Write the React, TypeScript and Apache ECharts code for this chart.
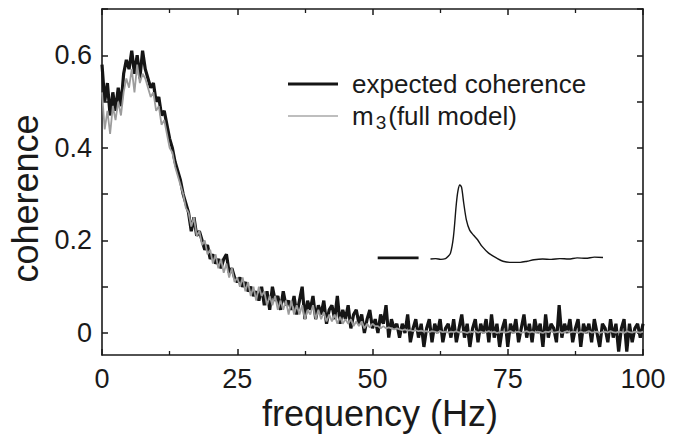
import React, { useEffect, useRef } from "react";
import * as echarts from "echarts";

const FONT = "Liberation Sans";
const INK = "#1a1a1a";

// frequency grid (Hz), 0.5 Hz steps
const freq: number[] = Array.from({ length: 201 }, (_, i) => i * 0.5);

const expectedCoherence: number[] = [
  0.58, 0.50, 0.54, 0.47, 0.52, 0.48, 0.53, 0.49, 0.56, 0.59,
  0.57, 0.61, 0.56, 0.60, 0.55, 0.61, 0.57, 0.55, 0.53, 0.54,
  0.50, 0.51, 0.47, 0.48, 0.45, 0.42, 0.40, 0.37, 0.35, 0.33,
  0.30, 0.28, 0.26, 0.22, 0.25, 0.21, 0.22, 0.20, 0.18, 0.19,
  0.16, 0.17, 0.15, 0.16, 0.14, 0.16, 0.17, 0.13, 0.14, 0.12,
  0.11, 0.12, 0.10, 0.11, 0.09, 0.10, 0.08, 0.09, 0.07, 0.10,
  0.06, 0.09, 0.05, 0.10, 0.07, 0.08, 0.05, 0.09, 0.06, 0.07,
  0.05, 0.08, 0.04, 0.07, 0.10, 0.03, 0.07, 0.05, 0.08, 0.03,
  0.06, 0.04, 0.07, 0.02, 0.05, 0.06, 0.03, 0.08, 0.02, 0.05,
  0.03, 0.06, 0.01, 0.04, 0.05, 0.02, 0.04, 0.00, 0.03, 0.05,
  0.01, 0.03, 0.00, 0.04, 0.02, 0.06, -0.01, 0.03, 0.01, 0.02,
  -0.01, 0.02, 0.00, 0.04, -0.02, 0.01, 0.03, -0.01, 0.02, -0.03,
  0.01, 0.03, -0.02, 0.02, 0.00, 0.03, -0.02, 0.01, 0.02, -0.01,
  0.03, -0.02, 0.01, 0.04, -0.01, 0.02, -0.03, 0.01, 0.03, -0.02,
  0.02, 0.00, 0.03, -0.02, 0.04, -0.01, 0.02, -0.03, 0.01, 0.03,
  -0.03, 0.02, 0.00, 0.03, -0.02, 0.01, 0.04, -0.01, 0.02, -0.02,
  0.03, 0.00, 0.02, -0.03, 0.04, -0.01, 0.02, 0.01, -0.02, 0.06,
  -0.01, 0.02, 0.00, 0.03, -0.02, 0.01, 0.03, -0.03, 0.02, 0.00,
  0.02, -0.02, 0.03, 0.00, -0.03, 0.02, 0.01, -0.02, 0.03, -0.01,
  0.02, -0.04, 0.01, 0.03, -0.04, 0.02, -0.02, 0.01, 0.02, -0.01,
  0.02,
];

const fullModel: number[] = [
  0.52, 0.44, 0.48, 0.43, 0.49, 0.46, 0.50, 0.47, 0.52, 0.55,
  0.53, 0.57, 0.52, 0.58, 0.54, 0.56, 0.55, 0.53, 0.51, 0.52,
  0.48, 0.49, 0.45, 0.46, 0.43, 0.40, 0.39, 0.36, 0.34, 0.32,
  0.30, 0.27, 0.26, 0.23, 0.25, 0.21, 0.22, 0.19, 0.20, 0.17,
  0.18, 0.15, 0.17, 0.14, 0.16, 0.13, 0.15, 0.12, 0.14, 0.11,
  0.12, 0.10, 0.12, 0.09, 0.11, 0.08, 0.10, 0.07, 0.10, 0.08,
  0.09, 0.06, 0.08, 0.06, 0.08, 0.05, 0.07, 0.05, 0.07, 0.04,
  0.07, 0.04, 0.06, 0.04, 0.06, 0.03, 0.05, 0.04, 0.06, 0.03,
  0.05, 0.03, 0.045, 0.025, 0.04, 0.025, 0.04, 0.02, 0.035, 0.02,
  0.03, 0.02, 0.03, 0.015, 0.025, 0.015, 0.025, 0.01, 0.02, 0.012,
  0.02, 0.015, 0.015, 0.01, 0.015, 0.01, 0.012, 0.01, 0.008, 0.01,
  0.008, 0.006, 0.008, 0.005, 0.006, 0.004, 0.006, 0.004, 0.005, 0.003,
  0.004, 0.002, 0.004, 0.003, 0.001, 0.004, 0.002, 0.003, 0.001, 0.003,
  0.002, 0.004, 0.001, 0.003, 0.002, 0.000, 0.003, 0.002, 0.004, 0.001,
  0.003, 0.001, 0.002, 0.004, 0.001, 0.003, 0.000, 0.002, 0.003, 0.001,
  0.002, 0.004, 0.001, 0.002, 0.003, 0.000, 0.002, 0.004, 0.001, 0.003,
  0.001, 0.003, 0.002, 0.000, 0.003, 0.002, 0.004, 0.001, 0.002, 0.003,
  0.000, 0.002, 0.004, 0.001, 0.003, 0.002, 0.000, 0.003, 0.001, 0.002,
  0.004, 0.001, 0.002, 0.003, 0.000, 0.002, 0.003, 0.001, 0.004, 0.002,
  0.001, 0.003, 0.002, 0.000, 0.004, 0.002, 0.001, 0.003, 0.002, 0.001,
  0.003,
];

// inset waveform (arbitrary time / normalized amplitude)
const waveTime: number[] = [
  0, 3, 6, 8.7, 10, 11.6, 13.3, 15, 16, 17, 18, 19.3, 20.8, 22.7, 25, 27.3,
  29.9, 33.7, 38.5, 42, 46, 52, 56, 60, 65, 70, 75, 80, 85, 90, 95, 100,
];
const waveValue: number[] = [
  0, 0.005, -0.005, 0.005, 0.03, 0.08, 0.3, 0.75, 0.93, 1.0, 0.97, 0.75, 0.53,
  0.39, 0.32, 0.26, 0.17, 0.08, 0.01, -0.03, -0.045, -0.045, -0.03, -0.01, 0,
  -0.005, 0.005, 0.0, 0.015, 0.01, 0.025, 0.02,
];
const barTime: number[] = [-30.6, -6.9];
const barValue: number[] = [0.015, 0.015];

const xTicks = { min: 0, max: 100, interval: 25 };
const yLabelValues: number[] = [0, 0.2, 0.4, 0.6];

const BLACK = "#151515";
const GRAY = "#9c9c9c";

export default function App() {
  const ref = useRef<HTMLDivElement>(null);
  useEffect(() => {
    if (!ref.current) return;
    const chart = echarts.init(ref.current, undefined, { renderer: "svg" });
    const axisLine = { show: true, onZero: false, lineStyle: { color: INK, width: 1.6 } };
    const noLine = { show: false, onZero: false };
    const tick = { show: true, inside: true, length: 6, lineStyle: { color: INK, width: 1.5 } };
    const minor = { show: true, splitNumber: 2, length: 4, lineStyle: { color: INK, width: 1.3 } };
    const grid0 = { left: 102, right: 36, top: 9, bottom: 82 };
    const grid1 = { left: 102, right: 36, top: 9, bottom: 104 };
    const grid2 = { left: 377, right: 76, top: 185, bottom: 170.6 };
    chart.setOption({
      animation: false,
      backgroundColor: "#ffffff",
      textStyle: { fontFamily: FONT, color: INK },
      grid: [grid0, grid1, grid2].map((g) => ({ ...g, containLabel: false })),
      xAxis: [
        {
          gridIndex: 0, type: "value", position: "bottom", ...xTicks,
          axisLine, axisTick: tick, minorTick: minor,
          axisLabel: { fontSize: 27, margin: 10, color: INK, fontFamily: FONT },
          splitLine: { show: false },
        },
        {
          gridIndex: 0, type: "value", position: "top", ...xTicks,
          axisLine, axisTick: tick, minorTick: minor,
          axisLabel: { show: false }, splitLine: { show: false },
        },
        { gridIndex: 1, type: "value", min: 0, max: 100, show: false, axisLine: noLine },
        { gridIndex: 2, type: "value", min: -31, max: 100, show: false, axisLine: noLine },
      ],
      yAxis: [
        {
          gridIndex: 0, type: "value", position: "left", min: -0.0475, max: 0.7,
          axisLine, axisTick: { show: false }, axisLabel: { show: false }, splitLine: { show: false },
        },
        {
          gridIndex: 0, type: "value", position: "right", min: -0.0475, max: 0.7,
          axisLine, axisTick: { show: false }, axisLabel: { show: false }, splitLine: { show: false },
        },
        {
          gridIndex: 1, type: "value", position: "left", min: 0, max: 0.7, interval: 0.1,
          axisLine: noLine, axisTick: tick, splitLine: { show: false },
          axisLabel: {
            fontSize: 27, margin: 10, color: INK, fontFamily: FONT,
            formatter: (v: number) => {
              const hit = yLabelValues.find((l) => Math.abs(l - v) < 1e-6);
              return hit === undefined ? "" : hit === 0 ? "0" : hit.toFixed(1);
            },
          },
        },
        {
          gridIndex: 1, type: "value", position: "right", min: 0, max: 0.7, interval: 0.1,
          axisLine: noLine, axisTick: tick, axisLabel: { show: false }, splitLine: { show: false },
        },
        { gridIndex: 2, type: "value", min: -0.1, max: 1, show: false, axisLine: noLine },
      ],
      legend: {
        orient: "vertical",
        left: 288,
        top: 71,
        padding: 0,
        itemWidth: 50,
        itemHeight: 14,
        itemGap: 6,
        symbolKeepAspect: true,
        data: [
          { name: "expected coherence", icon: "path://M0 0H50V3H0Z", itemStyle: { color: BLACK } },
          { name: "m3(full model)", icon: "path://M0 0H50V1.4H0Z", itemStyle: { color: "#a8a8a8" } },
        ],
        formatter: (name: string) => (name === "m3(full model)" ? "m{sub|3}(full model)" : name),
        textStyle: {
          fontSize: 26, color: INK, fontFamily: FONT, padding: [0, 0, 0, 9],
          rich: {
            sub: { fontSize: 19, color: INK, fontFamily: FONT, padding: [12, 2, 0, 2] },
          },
        },
      },
      graphic: [
        {
          type: "text", x: 380, y: 413,
          style: { text: "frequency (Hz)", fontSize: 36, fontFamily: FONT, fill: INK, textAlign: "center", textVerticalAlign: "middle" },
        },
        {
          type: "text", x: 25.5, y: 198.5, rotation: Math.PI / 2,
          style: { text: "coherence", fontSize: 36, fontFamily: FONT, fill: INK, textAlign: "center", textVerticalAlign: "middle" },
        },
      ],
      series: [
        {
          name: "expected coherence", type: "line", xAxisIndex: 0, yAxisIndex: 0,
          data: freq.map((f, i) => [f, expectedCoherence[i]]),
          symbol: "none", lineStyle: { color: BLACK, width: 3.2 }, itemStyle: { color: BLACK }, z: 2,
        },
        {
          name: "m3(full model)", type: "line", xAxisIndex: 0, yAxisIndex: 0,
          data: freq.map((f, i) => [f, fullModel[i]]),
          symbol: "none", lineStyle: { color: GRAY, width: 1.8 }, itemStyle: { color: GRAY }, z: 3,
        },
        {
          name: "waveform", type: "line", xAxisIndex: 3, yAxisIndex: 4, clip: false,
          data: waveTime.map((t, i) => [t, waveValue[i]]),
          symbol: "none", smooth: 0.3, lineStyle: { color: BLACK, width: 1.4 }, z: 4,
        },
        {
          name: "scale bar", type: "line", xAxisIndex: 3, yAxisIndex: 4, clip: false,
          data: barTime.map((t, i) => [t, barValue[i]]),
          symbol: "none", lineStyle: { color: BLACK, width: 2.6 }, z: 4,
        },
      ],
    });
    return () => chart.dispose();
  }, []);
  return <div ref={ref} style={{ position: "fixed", left: 0, top: 0, width: 679, height: 437 }} />;
}
